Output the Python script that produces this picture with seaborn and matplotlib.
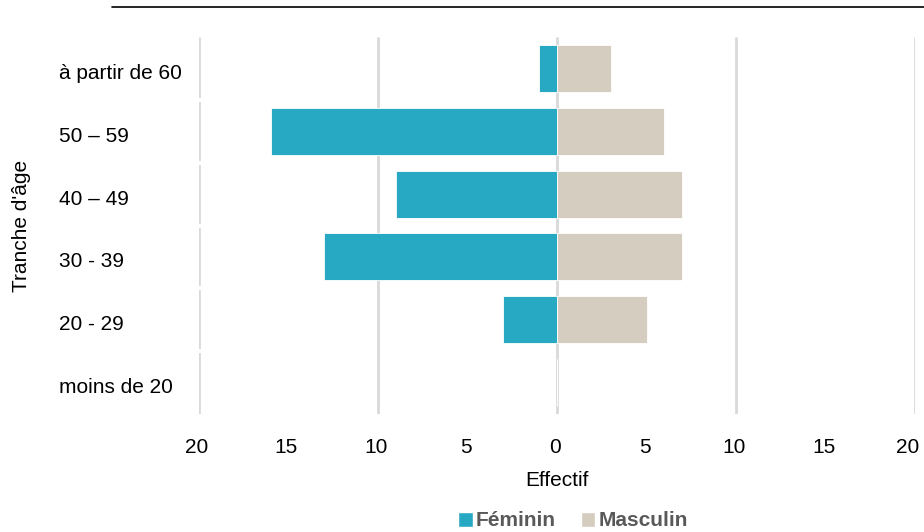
import numpy as np
import pandas as pd
import matplotlib
matplotlib.use("Agg")
import matplotlib.pyplot as plt
import seaborn as sns
from matplotlib.patches import Patch
from matplotlib.lines import Line2D
from matplotlib.ticker import FixedLocator, FuncFormatter
from matplotlib.transforms import ScaledTranslation

categories = ["à partir de 60", "50 – 59", "40 – 49", "30 - 39", "20 - 29", "moins de 20"]
feminin = [1, 16, 9, 13, 3, 0]
masculin = [3, 6, 7, 7, 5, 0]
x_ticks = [-20, -15, -10, -5, 0, 5, 10, 15, 20]
grid_ticks = [-20, -10, 0, 10, 20]

TEAL = "#28A9C3"
BEIGE = "#D5CDC0"
GRID = "#D9D9D9"
TXT = "#000000"
FS = 15

sns.set_theme(style="white")
plt.rcParams["font.family"] = ["Liberation Sans", "DejaVu Sans"]

fig = plt.figure(figsize=(9.24, 5.32), dpi=100)
ax = fig.add_axes([199/924, 1-414/532, (915-199)/924, (414-37)/532])

df_f = pd.DataFrame({"cat": categories, "val": -np.array(feminin)})
df_m = pd.DataFrame({"cat": categories, "val": np.array(masculin)})

ax.vlines(grid_ticks, -0.5, 5.5, colors=GRID, lw=2, zorder=0)

sns.barplot(data=df_f, x="val", y="cat", orient="h", color=TEAL, width=0.75,
            saturation=1, ax=ax, edgecolor="white", linewidth=0.6, zorder=2)
sns.barplot(data=df_m, x="val", y="cat", orient="h", color=BEIGE, width=0.75,
            saturation=1, ax=ax, edgecolor="white", linewidth=0.6, zorder=2)

ax.set_xlim(-20, 20)
ax.set_ylim(5.5, -0.5)
ax.xaxis.set_major_locator(FixedLocator(x_ticks))
ax.xaxis.set_major_formatter(FuncFormatter(lambda v, p: f"{abs(int(v))}"))
ax.tick_params(axis="x", length=0, pad=17, labelsize=FS, labelcolor=TXT)
ax.tick_params(axis="y", length=0, pad=101, labelsize=FS, labelcolor=TXT)
for lbl in ax.get_yticklabels():
    lbl.set_horizontalalignment("left")
    lbl.set_transform(lbl.get_transform() + ScaledTranslation(0, -3/100, fig.dpi_scale_trans))
xlabels = ax.get_xticklabels()
for i, lbl in enumerate(xlabels):
    dx = -7 if i == len(xlabels) - 1 else -2
    lbl.set_transform(lbl.get_transform() + ScaledTranslation(dx/100, 0, fig.dpi_scale_trans))

# white separators on left axis line
ax.yaxis.set_minor_locator(FixedLocator(list(np.arange(0.5, 5.5, 1.0))))
ax.tick_params(axis="y", which="minor", direction="in", length=4, width=3, color="white", left=True)

for s in ax.spines.values():
    s.set_visible(False)

ax.set_xlabel("Effectif", fontsize=FS, color=TXT, labelpad=10)
ax.set_ylabel("Tranche d'âge", fontsize=FS, color=TXT, labelpad=0)
ax.yaxis.set_label_coords(-(199-31)/716, 0.5)

handles = [Patch(facecolor=TEAL, label="Féminin"), Patch(facecolor=BEIGE, label="Masculin")]
leg = fig.legend(handles=handles, loc="center", bbox_to_anchor=(573/924, 1-521/532),
                 ncol=2, frameon=False, handlelength=0.7, handleheight=0.7,
                 handletextpad=0.15, columnspacing=1.2,
                 prop={"weight": "bold", "size": FS})
for t in leg.get_texts():
    t.set_color("#595959")

fig.add_artist(Line2D([112/924, 1.0], [1-7/532, 1-7/532], color="black", lw=1.2))

fig.savefig("out.png", dpi=100)
